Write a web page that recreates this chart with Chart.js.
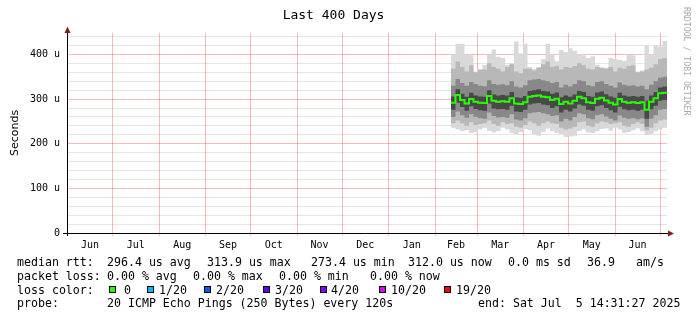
<!DOCTYPE html>
<html>
<head>
<meta charset="utf-8">
<script src="https://cdn.jsdelivr.net/npm/chart.js@4.4.1/dist/chart.umd.min.js"></script>
<style>
  html, body { margin: 0; padding: 0; background: #fff; }
  canvas { display: block; }
</style>
</head>
<body>
<canvas id="c" width="697" height="321"></canvas>
<script>
// graph covers 400 days, from May 31 2024 14:31 to Jul 5 2025 14:31
const totalDays = 400;
const monthNames = ['Jun', 'Jul', 'Aug', 'Sep', 'Oct', 'Nov', 'Dec', 'Jan', 'Feb', 'Mar', 'Apr', 'May', 'Jun'];
// first day of each month, in days after the graph start
const monthStarts = [0.4, 30.4, 61.4, 92.4, 122.4, 153.4, 183.4, 214.4, 245.4, 273.4, 304.4, 334.4, 365.4, 395.4];
const yTickValues = [0, 20, 40, 60, 80, 100, 120, 140, 160, 180, 200, 220, 240, 260, 280, 300, 320, 340, 360, 380, 400, 420, 440];
const yMax = 448;

// samples every 3 days, starting day 256 (Feb 10 2025), values in microseconds
const firstSampleDay = 256;
const sampleStep = 3;

const median = [292, 309, 298, 290, 300, 294, 292, 291, 307, 296,
  294, 295, 294, 302, 290, 289, 293, 305, 307, 308,
  305, 304, 298, 301, 289, 294, 290, 296, 305, 302,
  293, 291, 301, 303, 297, 292, 288, 300, 294, 292,
  293, 291, 293, 276, 294, 302, 313, 314, 313];

// smoke: outer (lightest) to inner (darkest)
const smoke1Hi = [400, 424, 424, 400, 398, 362, 366, 377, 400, 411,
  395, 392, 377, 380, 429, 402, 424, 372, 368, 372,
  390, 424, 400, 385, 410, 405, 414, 408, 400, 398,
  392, 396, 377, 370, 370, 392, 390, 388, 386, 400,
  398, 362, 364, 420, 400, 420, 418, 430, 404];
const smoke1Lo = [236, 232, 228, 230, 224, 226, 232, 236, 229, 225,
  228, 236, 232, 224, 222, 226, 233, 230, 221, 218,
  226, 234, 228, 224, 222, 215, 216, 218, 228, 232,
  225, 224, 228, 233, 234, 229, 236, 232, 224, 226,
  230, 234, 228, 220, 222, 228, 232, 236, 232];
const smoke2Hi = [368, 384, 372, 362, 376, 360, 366, 366, 380, 372,
  368, 362, 372, 378, 362, 358, 368, 368, 364, 370,
  378, 384, 372, 374, 366, 372, 370, 374, 380, 376,
  368, 366, 372, 370, 368, 372, 362, 370, 368, 374,
  376, 360, 362, 366, 370, 378, 390, 392, 386];
const smoke2Lo = [246, 252, 246, 240, 248, 242, 244, 246, 252, 244,
  240, 248, 244, 246, 238, 236, 242, 250, 246, 240,
  246, 250, 246, 244, 236, 232, 234, 238, 248, 250,
  240, 238, 246, 250, 248, 244, 246, 248, 240, 238,
  244, 248, 244, 230, 236, 246, 252, 254, 252];
const smoke3Hi = [330, 345, 336, 330, 338, 334, 330, 329, 342, 334,
  332, 333, 331, 340, 328, 326, 331, 342, 344, 345,
  342, 340, 336, 338, 326, 332, 328, 334, 342, 340,
  331, 329, 338, 340, 334, 330, 326, 337, 332, 330,
  331, 328, 330, 322, 332, 340, 348, 350, 348];
const smoke3Lo = [260, 272, 264, 258, 266, 260, 257, 256, 270, 262,
  259, 260, 258, 266, 254, 252, 257, 268, 270, 271,
  268, 266, 262, 264, 250, 256, 252, 260, 268, 266,
  257, 255, 264, 266, 261, 256, 252, 263, 258, 256,
  257, 255, 257, 238, 256, 264, 276, 278, 276];
const smoke4Hi = [306, 322, 312, 305, 314, 308, 306, 305, 320, 310,
  308, 309, 308, 316, 304, 303, 307, 318, 320, 322,
  318, 317, 312, 315, 304, 308, 305, 310, 318, 316,
  307, 305, 315, 317, 311, 306, 303, 314, 308, 306,
  307, 305, 307, 296, 308, 316, 326, 328, 326];
const smoke4Lo = [276, 292, 282, 274, 284, 278, 275, 274, 290, 279,
  277, 278, 276, 285, 272, 271, 276, 288, 290, 291,
  288, 286, 280, 284, 270, 276, 272, 279, 288, 285,
  276, 274, 284, 286, 280, 275, 270, 283, 277, 275,
  276, 274, 276, 256, 277, 285, 296, 298, 296];

const lossLabels = ['0', '1/20', '2/20', '3/20', '4/20', '10/20', '19/20'];
const lossColors = ['#26ff00', '#00b8ff', '#0059ff', '#5e00ff', '#7e00ff', '#dd00ff', '#ff0000'];

const days = median.map((_, i) => firstSampleDay + sampleStep * i);
const pts = arr => arr.map((v, i) => ({ x: days[i], y: v }));

const MAJOR = 'rgba(235, 50, 50, 0.33)';
const MINOR = 'rgba(120, 120, 120, 0.2)';
const MONO = '"DejaVu Sans Mono", monospace';

function band(lo, hi, color, order) {
  const base = { order, pointRadius: 0, borderWidth: 0, borderColor: 'rgba(0,0,0,0)', stepped: true };
  return [
    Object.assign({ data: pts(lo), fill: false }, base),
    Object.assign({ data: pts(hi), fill: '-1', backgroundColor: color }, base)
  ];
}

const datasets = [].concat(
  band(smoke1Lo, smoke1Hi, '#d9d9d9', 4),
  band(smoke2Lo, smoke2Hi, '#b8b8b8', 3),
  band(smoke3Lo, smoke3Hi, '#888888', 2),
  band(smoke4Lo, smoke4Hi, '#484848', 1),
  [{ data: pts(median), order: 0, borderColor: '#26ff00', borderWidth: 2, pointRadius: 0, stepped: true, fill: false }]
);

const extras = {
  id: 'extras',
  beforeDraw(chart) {
    const ctx = chart.ctx;
    ctx.save();
    ctx.fillStyle = '#fff';
    ctx.fillRect(0, 0, chart.width, chart.height);
    ctx.restore();
  },
  afterDraw(chart) {
    const ctx = chart.ctx;
    const a = chart.chartArea;
    ctx.save();

    // axes
    ctx.strokeStyle = '#000';
    ctx.lineWidth = 1;
    ctx.beginPath();
    ctx.moveTo(a.left + 0.5, a.bottom + 3);
    ctx.lineTo(a.left + 0.5, a.top);
    ctx.moveTo(a.left - 4, a.bottom + 0.5);
    ctx.lineTo(a.right + 1, a.bottom + 0.5);
    ctx.stroke();
    ctx.fillStyle = '#8b1a1a';
    ctx.beginPath();
    ctx.moveTo(a.left + 0.5, a.top - 6.5);
    ctx.lineTo(a.left - 2.5, a.top);
    ctx.lineTo(a.left + 3.5, a.top);
    ctx.fill();
    ctx.beginPath();
    ctx.moveTo(a.right + 7, a.bottom + 0.5);
    ctx.lineTo(a.right + 1, a.bottom - 2.5);
    ctx.lineTo(a.right + 1, a.bottom + 3.5);
    ctx.fill();

    // credit
    ctx.save();
    ctx.translate(686, 7);
    ctx.rotate(Math.PI / 2);
    ctx.fillStyle = '#aaaaaa';
    ctx.font = '8.2px ' + MONO;
    ctx.textBaseline = 'middle';
    ctx.fillText('RRDTOOL / TOBI OETIKER', 0, 0);
    ctx.restore();

    // legend block
    ctx.fillStyle = '#000';
    ctx.font = '11.6px ' + MONO;
    ctx.textBaseline = 'alphabetic';
    const rows = [
      [266, [[17, 'median rtt:'], [107, '296.4 us avg'], [207, '313.9 us max'], [311, '273.4 us min'],
             [408, '312.0 us now'], [508, '0.0 ms sd'], [587, '36.9'], [636, 'am/s']]],
      [280, [[17, 'packet loss:'], [107, '0.00 % avg'], [193, '0.00 % max'], [279, '0.00 % min'], [370, '0.00 % now']]],
      [294, [[17, 'loss color:']]],
      [307, [[17, 'probe:'], [107, '20 ICMP Echo Pings (250 Bytes) every 120s'], [478, 'end: Sat Jul  5 14:31:27 2025']]]
    ];
    rows.forEach(([y, parts]) => parts.forEach(([x, t]) => ctx.fillText(t, x, y)));

    const boxX = [109, 147, 204, 263, 320, 379, 444];
    const textX = [124, 159, 216, 275, 331, 391, 456];
    lossLabels.forEach((lab, i) => {
      ctx.fillStyle = lossColors[i];
      ctx.fillRect(boxX[i] + 0.5, 286.5, 6, 6);
      ctx.strokeStyle = '#000';
      ctx.strokeRect(boxX[i] + 0.5, 286.5, 6, 6);
      ctx.fillStyle = '#000';
      ctx.fillText(lab, textX[i], 294);
    });
    ctx.restore();
  }
};

Chart.defaults.font.family = MONO;

new Chart(document.getElementById('c'), {
  type: 'line',
  data: { datasets },
  plugins: [extras],
  options: {
    responsive: false,
    animation: false,
    devicePixelRatio: 1,
    layout: { padding: { top: 0, right: 30, bottom: 0, left: 0 } },
    plugins: {
      legend: { display: false },
      tooltip: { enabled: false },
      title: {
        display: true,
        text: 'Last 400 Days',
        color: '#000',
        font: { family: MONO, size: 13, weight: 'normal' },
        padding: { top: 8, bottom: 9.4 }
      }
    },
    scales: {
      x: {
        type: 'linear', min: 0, max: totalDays, position: 'bottom', weight: 1,
        grid: { display: false, drawTicks: false },
        border: { display: false },
        afterBuildTicks: s => { s.ticks = monthNames.map((_, i) => ({ value: (monthStarts[i] + monthStarts[i + 1]) / 2 })); },
        afterFit: s => { s.height = 88; },
        ticks: {
          autoSkip: false, maxRotation: 0, padding: 6, color: '#000',
          font: { family: MONO, size: 10 },
          callback: (v, i) => monthNames[i]
        }
      },
      xg: {
        type: 'linear', min: 0, max: totalDays, position: 'bottom', weight: 0, z: 1,
        afterBuildTicks: s => { s.ticks = monthStarts.map(v => ({ value: v })); },
        afterFit: s => { s.height = 0; },
        ticks: { display: false, autoSkip: false },
        grid: { color: MAJOR, drawTicks: true, tickLength: 3 },
        border: { display: false }
      },
      y: {
        min: 0, max: yMax, z: 1,
        afterBuildTicks: s => { s.ticks = yTickValues.map(v => ({ value: v })); },
        afterFit: s => { s.width = 67; },
        ticks: {
          autoSkip: false, padding: 7, color: '#000',
          font: { family: MONO, size: 10 },
          callback: v => (v % 100 ? '' : (v ? v + ' u' : '0'))
        },
        grid: { drawTicks: false, color: c => (c.tick.value % 100 ? MINOR : MAJOR) },
        border: { display: false },
        title: {
          display: true, text: 'Seconds', color: '#000',
          font: { family: '"DejaVu Sans", sans-serif', size: 11 },
          padding: { top: 9, bottom: 0 }
        }
      }
    }
  }
});
</script>
</body>
</html>
